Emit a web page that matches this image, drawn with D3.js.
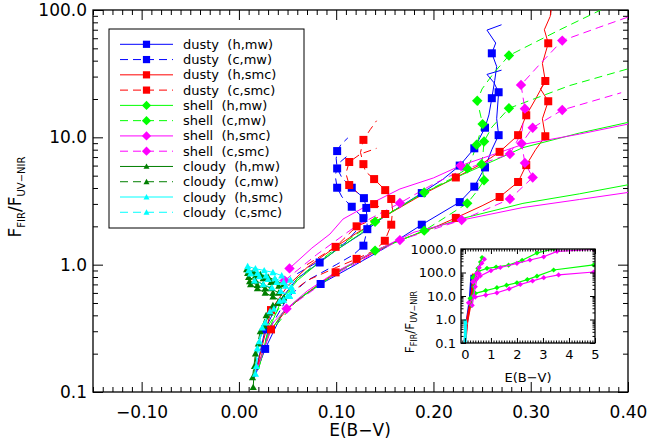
<!DOCTYPE html>
<html><head><meta charset="utf-8">
<script src="https://cdn.jsdelivr.net/npm/d3@7"></script>
<style>
body{margin:0;background:#fff}
svg{display:block}
text{font-family:"DejaVu Sans",sans-serif;fill:#000}
</style>
</head><body>
<svg id="chart" width="649" height="447"></svg>
<script>
// ---- model tracks: [E(B-V), F_FIR/F_UV-NIR] ----
const dustyHmw = [
  [[0.016,0.13],[0.027,0.31],[0.04,0.5],[0.06,0.78],[0.083,1.04],[0.1,1.3],[0.126,1.75],[0.15,2.4],[0.188,3.65],[0.21,4.7],[0.227,6.0],[0.242,8.2],[0.253,11.9],[0.257,15],[0.26,20.3],[0.263,28],[0.265,36],[0.26,45.7],[0.264,55],[0.255,69.5],[0.27,76.6]],
  [[0.016,0.13],[0.027,0.218],[0.045,0.42],[0.065,0.56],[0.084,0.705],[0.12,1.0],[0.15,1.35],[0.188,2.06],[0.227,3.1],[0.242,4.1],[0.253,5.8],[0.26,8],[0.267,10.4],[0.265,14],[0.267,22.6],[0.262,27],[0.255,31.2],[0.27,33.7]]
];
const dustyHmwMarks = [[0.027,0.31],[0.083,1.04],[0.188,3.65],[0.227,6.0],[0.242,8.2],[0.253,11.9],[0.26,20.3],[0.26,45.7],
  [0.027,0.218],[0.084,0.705],[0.188,2.06],[0.227,3.1],[0.242,4.1],[0.253,5.8],[0.267,10.4],[0.267,22.6]];

const dustyCmw = [
  [[0.02,0.16],[0.03,0.3],[0.05,0.55],[0.07,0.75],[0.1,1.0],[0.118,1.2],[0.128,1.41],[0.132,1.9],[0.131,2.79],[0.1285,3.33],[0.116,4.02],[0.106,4.8],[0.101,5.7],[0.1,6.8],[0.101,7.8],[0.105,8.8],[0.112,9.9]],
  [[0.06,0.85],[0.09,1.15],[0.11,1.5],[0.122,1.9],[0.128,2.32],[0.116,2.85],[0.106,3.4],[0.101,4.02],[0.099,5.0],[0.102,6.2],[0.112,7.2]]
];
const dustyCmwMarks = [[0.128,1.41],[0.132,1.9],[0.131,2.79],[0.1285,3.33],[0.116,4.02],[0.101,5.7],[0.101,7.8],
  [0.128,2.32],[0.116,2.85],[0.101,4.02]];

const dustyHsmc = [
  [[0.018,0.15],[0.033,0.44],[0.05,0.68],[0.07,0.95],[0.0994,1.38],[0.12,1.75],[0.15,2.4],[0.19,3.6],[0.223,4.84],[0.25,6.2],[0.268,7.69],[0.287,10.4],[0.2954,14.9],[0.305,20],[0.315,27.7],[0.312,38],[0.318,54.8],[0.314,70],[0.32,89],[0.322,115]],
  [[0.018,0.15],[0.033,0.31],[0.05,0.45],[0.07,0.6],[0.0994,0.87],[0.13,1.15],[0.16,1.5],[0.2,1.95],[0.223,2.33],[0.25,2.9],[0.268,3.4],[0.287,4.46],[0.2954,6.05],[0.305,8],[0.315,10.2],[0.312,14],[0.318,19.2],[0.31,24],[0.316,28]]
];
const dustyHsmcMarks = [[0.033,0.44],[0.0994,1.38],[0.223,4.84],[0.268,7.69],[0.287,10.4],[0.2954,14.9],[0.315,27.7],[0.318,54.8],
  [0.033,0.31],[0.0994,0.87],[0.223,2.33],[0.268,3.4],[0.287,4.46],[0.2954,6.05],[0.315,10.2],[0.318,19.2]];

const dustyCsmc = [
  [[0.04,0.5],[0.07,0.75],[0.1,0.95],[0.121,1.11],[0.14,1.3],[0.15,1.54],[0.1566,2.06],[0.158,2.7],[0.1566,3.28],[0.1504,3.85],[0.139,4.7],[0.13,5.4],[0.128,6.16],[0.125,7.6],[0.128,9.55],[0.135,11.5],[0.1415,13.5]],
  [[0.07,1.0],[0.0994,1.38],[0.121,2.0],[0.14,2.3],[0.1504,2.5],[0.146,2.8],[0.139,2.99],[0.125,3.5],[0.1134,4.22],[0.11,5.2],[0.1134,6.4],[0.125,7.4],[0.1415,8.2]]
];
const dustyCsmcMarks = [[0.121,1.11],[0.15,1.54],[0.1566,2.06],[0.1566,3.28],[0.1504,3.85],[0.139,4.7],[0.128,6.16],[0.128,9.55],
  [0.121,2.0],[0.1504,2.5],[0.139,2.99],[0.1134,4.22],[0.1134,6.4]];

const shellHmw = [
  [[0.02,0.15],[0.03,0.3],[0.045,0.55],[0.06,0.75],[0.083,1.05],[0.1,1.3],[0.125,1.75],[0.14,2.17],[0.1905,3.69],[0.23,5.1],[0.292,8.3],[0.35,10.8],[0.4,13.1]],
  [[0.02,0.15],[0.03,0.28],[0.045,0.42],[0.06,0.53],[0.084,0.7],[0.1,0.86],[0.14,1.29],[0.1905,1.85],[0.229,2.3],[0.292,3.03],[0.35,3.6],[0.4,4.24]]
];
const shellHmwMarks = [[0.14,2.17],[0.1905,3.69],[0.14,1.29],[0.1905,1.85]];

const shellCmw = [
  [[0.03,0.33],[0.06,0.78],[0.1,1.35],[0.14,2.17],[0.1905,3.69],[0.22,4.8],[0.2347,5.7],[0.24,7.0],[0.2444,8.74],[0.2505,12.7],[0.245,19.4],[0.25,24],[0.262,32],[0.2776,43.9],[0.33,70],[0.372,100]],
  [[0.03,0.28],[0.06,0.53],[0.1,0.86],[0.14,1.29],[0.1905,1.85],[0.2347,3.03],[0.245,3.8],[0.252,4.6],[0.2495,6.15],[0.251,7.5],[0.252,9.28],[0.26,12],[0.2776,16.9],[0.34,25.5],[0.4,34.5]]
];
const shellCmwMarks = [[0.2347,5.7],[0.2444,8.74],[0.2505,12.7],[0.245,19.4],[0.2776,43.9],
  [0.2347,3.03],[0.252,4.6],[0.2495,6.15],[0.252,9.28],[0.2776,16.9]];

const shellHsmc = [
  [[0.052,0.935],[0.075,1.35],[0.0936,1.74],[0.107,2.28],[0.135,3.0],[0.1655,3.93],[0.2,4.8],[0.228,6.0],[0.292,8.8],[0.35,10.6],[0.4,12.7]],
  [[0.02,0.16],[0.035,0.35],[0.049,0.45],[0.07,0.62],[0.1,0.88],[0.14,1.28],[0.18,1.8],[0.229,2.24],[0.292,2.81],[0.35,3.25],[0.4,3.69]]
];
const shellHsmcMarks = [[0.052,0.935],[0.228,6.0],[0.049,0.45],[0.229,2.24]];

const shellCsmc = [
  [[0.047,0.75],[0.08,1.2],[0.12,2.0],[0.1655,3.05],[0.2,4.3],[0.229,5.5],[0.2786,7.4],[0.291,11],[0.294,16.8],[0.29,25.8],[0.31,38],[0.3324,57.5],[0.37,73],[0.4,88]],
  [[0.049,0.45],[0.1,0.85],[0.1655,1.56],[0.229,2.24],[0.2786,3.28],[0.302,4.84],[0.294,6.3],[0.2906,8.95],[0.302,11.9],[0.3324,16.4],[0.393,22.4]]
];
const shellCsmcMarks = [[0.047,0.75],[0.1655,3.05],[0.2786,7.4],[0.294,16.8],[0.29,25.8],[0.3324,57.5],
  [0.1655,1.56],[0.2786,3.28],[0.302,4.84],[0.294,6.3],[0.2906,8.95],[0.302,11.9],[0.3324,16.4]];

const cloudyHmw = [
  [[0.0147,0.109],[0.016,0.16],[0.02,0.24],[0.026,0.33],[0.032,0.42],[0.04,0.5],[0.046,0.55]],
  [[0.008,0.92],[0.015,0.88],[0.022,0.84],[0.03,0.8],[0.038,0.75],[0.046,0.7]],
  [[0.01,0.8],[0.017,0.75],[0.025,0.7],[0.033,0.65],[0.041,0.6]],
  [[0.012,0.7],[0.019,0.65],[0.027,0.6],[0.035,0.56],[0.043,0.52]]
];
const cloudyCmw = [
  [[0.014,0.13],[0.017,0.2],[0.022,0.3],[0.028,0.4],[0.035,0.48],[0.043,0.52]],
  [[0.009,0.86],[0.017,0.82],[0.025,0.78],[0.033,0.73],[0.041,0.68]],
  [[0.011,0.74],[0.019,0.69],[0.027,0.65],[0.035,0.6]]
];
const cloudyHsmc = [
  [[0.017,0.139],[0.019,0.22],[0.024,0.32],[0.032,0.43],[0.042,0.52],[0.05,0.57],[0.055,0.62]],
  [[0.009,0.97],[0.017,0.93],[0.026,0.9],[0.035,0.87],[0.044,0.82],[0.053,0.76]],
  [[0.012,0.85],[0.021,0.81],[0.03,0.77],[0.039,0.73],[0.048,0.68],[0.055,0.62]]
];
const cloudyCsmc = [
  [[0.018,0.16],[0.021,0.25],[0.027,0.35],[0.036,0.45],[0.046,0.53],[0.052,0.57]],
  [[0.01,0.9],[0.019,0.86],[0.028,0.82],[0.037,0.78],[0.046,0.73],[0.054,0.67]],
  [[0.016,0.75],[0.025,0.7],[0.034,0.66],[0.043,0.62],[0.052,0.57]]
];

// wide-range tracks for the inset panel
const insetShellGreen = [
  [[0.2,8],[0.4,13],[0.8,17],[1.23,22.5],[1.6,29],[2.0,36.7],[2.4,50],[2.77,70],[3.41,128],[4.95,210]],
  [[0.3,60],[0.5,110],[0.85,150],[1.2,170],[1.68,205],[2.2,330],[2.77,676],[3.41,1000]],
  [[0.3,40],[0.4,80],[0.5,150],[0.6,280],[0.66,430]],
  [[0.25,4],[0.3,10],[0.35,25],[0.42,60],[0.5,110]]
];
const insetShellMagenta = [
  [[0.14,5.1],[0.4,9],[0.8,11],[1.23,13.7],[1.7,20],[2.13,31],[2.6,44],[3.03,60],[3.6,79],[4.95,105]],
  [[0.3,40],[0.59,71],[1.0,120],[1.36,163],[2.0,245],[2.5,340],[3.03,466],[3.54,795],[4.95,950]],
  [[0.33,40],[0.45,90],[0.55,160],[0.65,250],[0.75,370]],
  [[0.28,4],[0.34,10],[0.4,25],[0.47,55],[0.55,90]]
];
const insetDustyMw = [[0.0,0.12],[0.05,0.5],[0.15,3],[0.2,8],[0.26,80]];
const insetDustySmc = [[0.02,0.15],[0.08,0.8],[0.2,4],[0.28,15],[0.32,90]];
const insetCloudy = [[0.01,0.1],[0.02,0.5],[0.0,1.0],[0.05,0.6]];

// legend and axis labels
const legendLabels = ["dusty  (h,mw)","dusty  (c,mw)","dusty  (h,smc)","dusty  (c,smc)",
  "shell  (h,mw)","shell  (c,mw)","shell  (h,smc)","shell  (c,smc)",
  "cloudy  (h,mw)","cloudy  (c,mw)","cloudy  (h,smc)","cloudy  (c,smc)"];
const xTickValues = [-0.10,0.00,0.10,0.20,0.30,0.40];
const yTickValues = [0.1,1,10,100];
const insetXTicks = [0,1,2,3,4,5];
const insetYTicks = [0.1,1,10,100,1000];

const BLUE="#0000ff", RED="#ff0000", GREEN="#00ff00", MAG="#ff00ff", DKG="#007f00", CYAN="#00ffff";
const DASH="8,5";

const series = [
  {lines:dustyHmw, marks:dustyHmwMarks, color:BLUE, dash:null, sym:"square"},
  {lines:dustyCmw, marks:dustyCmwMarks, color:BLUE, dash:DASH, sym:"square"},
  {lines:dustyHsmc, marks:dustyHsmcMarks, color:RED, dash:null, sym:"square"},
  {lines:dustyCsmc, marks:dustyCsmcMarks, color:RED, dash:DASH, sym:"square"},
  {lines:shellHmw, marks:shellHmwMarks, color:GREEN, dash:null, sym:"diamond"},
  {lines:shellCmw, marks:shellCmwMarks, color:GREEN, dash:DASH, sym:"diamond"},
  {lines:shellHsmc, marks:shellHsmcMarks, color:MAG, dash:null, sym:"diamond"},
  {lines:shellCsmc, marks:shellCsmcMarks, color:MAG, dash:DASH, sym:"diamond"},
  {lines:cloudyHmw, marks:cloudyHmw.flat(), color:DKG, dash:null, sym:"triangle"},
  {lines:cloudyCmw, marks:cloudyCmw.flat(), color:DKG, dash:DASH, sym:"triangle"},
  {lines:cloudyHsmc, marks:cloudyHsmc.flat(), color:CYAN, dash:null, sym:"triangle"},
  {lines:cloudyCsmc, marks:cloudyCsmc.flat(), color:CYAN, dash:DASH, sym:"triangle"}
];

const svg = d3.select("#chart");
const M = {l:93, r:628, t:10, b:392};
const x = d3.scaleLinear().domain([-0.15,0.40]).range([M.l,M.r]);
const y = d3.scaleLog().domain([0.1,100]).range([M.b,M.t]);

// s is the half-size of the symbol in pixels
function marker(g, sym, cx, cy, color, s){
  if(sym==="square"){
    g.append("rect").attr("x",cx-s).attr("y",cy-s).attr("width",2*s).attr("height",2*s).attr("fill",color);
  } else if(sym==="diamond"){
    g.append("path").attr("d",`M${cx},${cy-s}L${cx+s},${cy}L${cx},${cy+s}L${cx-s},${cy}Z`).attr("fill",color);
  } else {
    g.append("path").attr("d",`M${cx},${cy-s}L${cx+s},${cy+s*0.8}L${cx-s},${cy+s*0.8}Z`).attr("fill",color);
  }
}
const symSize = {square:4, diamond:5.2, triangle:3.6};
const legSymSize = {square:3.6, diamond:4.6, triangle:3};

// frame axes with ticks pointing into the plot
function frameAxes(g, xs, ys, xMaj, xMin, yMaj, fs, xfmt, yfmt, majLen, minLen, xpad, ypad){
  const [x0,x1]=xs.range(), [y0,y1]=ys.range();
  g.append("g").attr("transform",`translate(0,${y0})`)
    .call(d3.axisBottom(xs).tickValues(xMaj).tickSizeInner(-majLen).tickSizeOuter(0).tickPadding(xpad).tickFormat(xfmt));
  g.append("g").attr("transform",`translate(0,${y0})`)
    .call(d3.axisBottom(xs).tickValues(xMin).tickSize(-minLen).tickFormat(""));
  g.append("g").attr("transform",`translate(0,${y1})`)
    .call(d3.axisTop(xs).tickValues(xMaj).tickSize(-majLen).tickFormat(""));
  g.append("g").attr("transform",`translate(0,${y1})`)
    .call(d3.axisTop(xs).tickValues(xMin).tickSize(-minLen).tickFormat(""));
  const dom = ys.domain();
  const yMin = [];
  for(let d=dom[0]; d<dom[1]*0.999; d*=10){ for(let k=2;k<=9;k++) yMin.push(d*k); }
  g.append("g").attr("transform",`translate(${x0},0)`)
    .call(d3.axisLeft(ys).tickValues(yMaj).tickSizeInner(-majLen).tickSizeOuter(0).tickPadding(ypad).tickFormat(yfmt));
  g.append("g").attr("transform",`translate(${x0},0)`)
    .call(d3.axisLeft(ys).tickValues(yMin).tickSize(-minLen).tickFormat(""));
  g.append("g").attr("transform",`translate(${x1},0)`)
    .call(d3.axisRight(ys).tickValues(yMaj).tickSize(-majLen).tickFormat(""));
  g.append("g").attr("transform",`translate(${x1},0)`)
    .call(d3.axisRight(ys).tickValues(yMin).tickSize(-minLen).tickFormat(""));
  g.selectAll(".domain").remove();
  g.selectAll(".tick line").attr("stroke","#000").attr("stroke-width",1);
  g.selectAll(".tick text").attr("font-size",fs).attr("fill","#000").style("font-family","DejaVu Sans, sans-serif");
  g.append("rect").attr("x",x0).attr("y",y1).attr("width",x1-x0).attr("height",y0-y1)
    .attr("fill","none").attr("stroke","#000").attr("stroke-width",1.3);
}

// ---- main panel ----
const main = svg.append("g");
const xMinor = d3.range(-15,41).map(i=>i/100).filter(v=>Math.abs(Math.round(v*10)-v*10)>1e-6);
frameAxes(main, x, y, xTickValues, xMinor, yTickValues, 17, d3.format(".2f"), d3.format(".1f"), 10, 5, 14, 6);

svg.append("clipPath").attr("id","plotclip").append("rect").attr("x",M.l).attr("y",M.t).attr("width",M.r-M.l).attr("height",M.b-M.t);
const plot = svg.append("g").attr("clip-path","url(#plotclip)");
const line = d3.line().x(d=>x(d[0])).y(d=>y(d[1]));

series.forEach(s=>{
  s.lines.forEach(c=>{
    plot.append("path").attr("d",line(c)).attr("fill","none").attr("stroke",s.color)
      .attr("stroke-width",1).attr("stroke-dasharray",s.dash);
  });
});
series.forEach(s=>{
  s.marks.forEach(p=>marker(plot, s.sym, x(p[0]), y(p[1]), s.color, symSize[s.sym]));
});

// axis titles
svg.append("text").attr("x",360).attr("y",436).attr("text-anchor","middle").attr("font-size",17).text("E(B\u2212V)");
const yt = svg.append("text").attr("transform","translate(21,197) rotate(-90)").attr("text-anchor","middle").attr("font-size",17);
yt.append("tspan").text("F");
yt.append("tspan").attr("font-size",10).attr("dy",4).text("FIR");
yt.append("tspan").attr("dy",-4).text("/F");
yt.append("tspan").attr("font-size",10).attr("dy",4).text("UV\u2212NIR");

// ---- legend ----
const lg = svg.append("g");
lg.append("rect").attr("x",109).attr("y",29).attr("width",195).attr("height",199).attr("fill","#fff").attr("stroke","#000").attr("stroke-width",1);
series.forEach((s,i)=>{
  const ry = 44.3 + i*15.27;
  lg.append("line").attr("x1",120).attr("x2",173).attr("y1",ry).attr("y2",ry).attr("stroke",s.color).attr("stroke-dasharray",s.dash);
  marker(lg, s.sym, 146.5, ry, s.color, legSymSize[s.sym]);
  lg.append("text").attr("x",183).attr("y",ry+4.5).attr("font-size",13).attr("xml:space","preserve").text(legendLabels[i]);
});

// ---- inset panel ----
const ix = d3.scaleLinear().domain([-0.15,5]).range([461,595]);
const iy = d3.scaleLog().domain([0.1,1000]).range([343,249]);
const inset = svg.append("g");
inset.append("rect").attr("x",461).attr("y",249).attr("width",134).attr("height",94).attr("fill","#fff");
const iline = d3.line().x(d=>ix(d[0])).y(d=>iy(d[1]));
svg.append("clipPath").attr("id","insetclip").append("rect").attr("x",461).attr("y",249).attr("width",134).attr("height",94);
const ip = inset.append("g").attr("clip-path","url(#insetclip)");
ip.append("path").attr("d",iline(insetDustyMw)).attr("fill","none").attr("stroke",BLUE).attr("stroke-width",2.5);
ip.append("path").attr("d",iline(insetDustySmc)).attr("fill","none").attr("stroke",RED).attr("stroke-width",2.5);
ip.append("path").attr("d",iline(insetCloudy)).attr("fill","none").attr("stroke",CYAN).attr("stroke-width",3);
[{lines:insetShellGreen,color:GREEN},{lines:insetShellMagenta,color:MAG}].forEach(s=>{
  s.lines.forEach(c=>{
    ip.append("path").attr("d",iline(c)).attr("fill","none").attr("stroke",s.color).attr("stroke-width",1.2);
    c.forEach(p=>marker(ip,"diamond",ix(p[0]),iy(p[1]),s.color,2.6));
  });
});
const ixMin = d3.range(-1,51).map(i=>i/10).filter(v=>v>=-0.15 && Math.abs(v-Math.round(v))>1e-6);
frameAxes(inset, ix, iy, insetXTicks, ixMin, insetYTicks, 13, d3.format("d"), d3.format(".1f"), 5, 2.5, 7, 5);
svg.append("text").attr("x",528).attr("y",382).attr("text-anchor","middle").attr("font-size",13).text("E(B\u2212V)");
const iyt = svg.append("text").attr("transform","translate(414,322) rotate(-90)").attr("text-anchor","middle").attr("font-size",12);
iyt.append("tspan").text("F");
iyt.append("tspan").attr("font-size",8).attr("dy",3).text("FIR");
iyt.append("tspan").attr("dy",-3).text("/F");
iyt.append("tspan").attr("font-size",8).attr("dy",3).text("UV\u2212NIR");
</script>
</body></html>
